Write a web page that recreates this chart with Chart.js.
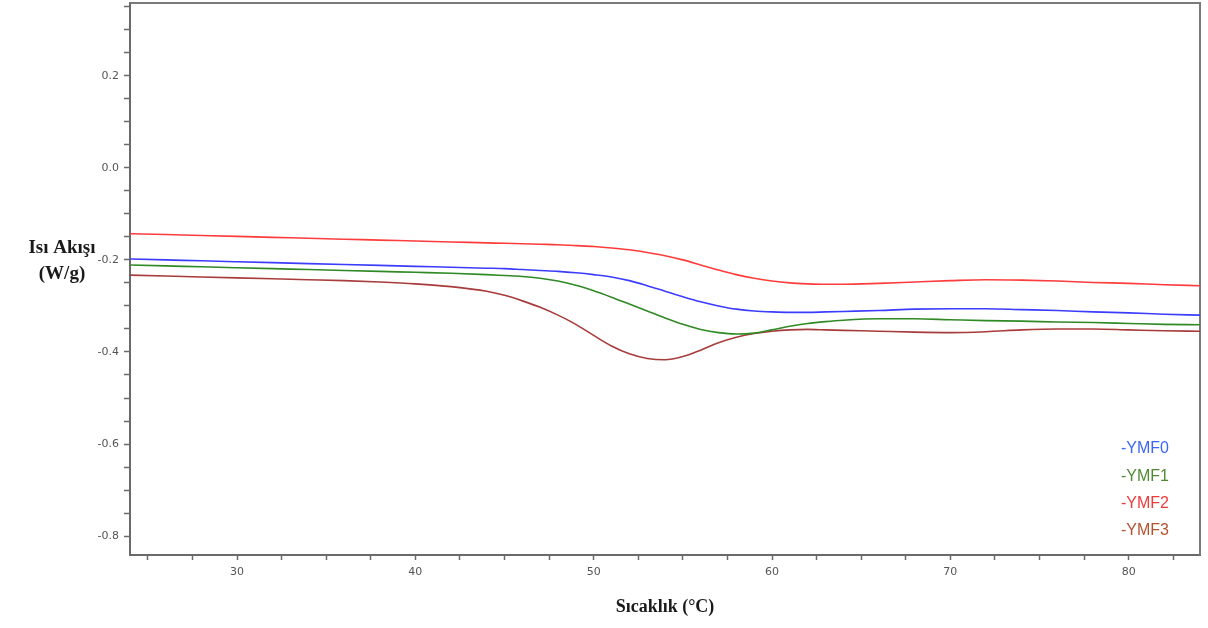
<!DOCTYPE html>
<html><head><meta charset="utf-8">
<script src="https://cdn.jsdelivr.net/npm/chart.js@4/dist/chart.umd.min.js"></script>
<style>html,body{margin:0;padding:0;background:#fff;}#wrap{width:1208px;height:628px;position:relative;}</style>
</head><body><div id="wrap"><canvas id="c" width="1208" height="628"></canvas></div>
<script>
// ---- data ----
const temperatures = [24,26,28,30,32,34,36,38,40,42,44,45,46,47,48,49,50,51,52,53,54,55,56,57,58,59,60,61,62,63,64,66,68,70,72,74,76,78,80,82,84];
const ymf0 = [-0.198,-0.200,-0.202,-0.204,-0.206,-0.208,-0.210,-0.212,-0.214,-0.216,-0.218,-0.219,-0.221,-0.223,-0.225,-0.228,-0.232,-0.237,-0.245,-0.256,-0.268,-0.280,-0.291,-0.300,-0.307,-0.311,-0.313,-0.314,-0.314,-0.313,-0.312,-0.310,-0.307,-0.306,-0.306,-0.308,-0.310,-0.313,-0.315,-0.318,-0.320];
const ymf1 = [-0.211,-0.213,-0.215,-0.217,-0.219,-0.221,-0.223,-0.225,-0.227,-0.229,-0.232,-0.234,-0.236,-0.240,-0.246,-0.255,-0.267,-0.281,-0.296,-0.311,-0.326,-0.340,-0.351,-0.358,-0.361,-0.359,-0.352,-0.344,-0.338,-0.334,-0.331,-0.328,-0.328,-0.330,-0.332,-0.333,-0.335,-0.336,-0.338,-0.340,-0.341];
const ymf2 = [-0.143,-0.145,-0.147,-0.149,-0.151,-0.153,-0.155,-0.157,-0.159,-0.161,-0.163,-0.164,-0.165,-0.166,-0.167,-0.169,-0.171,-0.174,-0.178,-0.184,-0.191,-0.200,-0.211,-0.222,-0.232,-0.240,-0.246,-0.250,-0.252,-0.253,-0.253,-0.251,-0.248,-0.245,-0.243,-0.244,-0.246,-0.249,-0.251,-0.254,-0.256];
const ymf3 = [-0.233,-0.235,-0.237,-0.239,-0.241,-0.243,-0.245,-0.248,-0.252,-0.258,-0.268,-0.277,-0.289,-0.303,-0.320,-0.340,-0.364,-0.387,-0.404,-0.414,-0.417,-0.410,-0.396,-0.380,-0.368,-0.360,-0.355,-0.352,-0.351,-0.352,-0.353,-0.355,-0.357,-0.358,-0.356,-0.352,-0.350,-0.350,-0.352,-0.354,-0.355];
const seriesNames = ['-YMF0','-YMF1','-YMF2','-YMF3'];
const seriesValues = [ymf0, ymf1, ymf2, ymf3];
const xMajorTicks = [30,40,50,60,70,80];
const xMinorTicks = [25,27.5,32.5,35,37.5,42.5,45,47.5,52.5,55,57.5,62.5,65,67.5,72.5,75,77.5,82.5];
const yMajorTicks = [-0.8,-0.6,-0.4,-0.2,0.0,0.2];
const yMinorTicks = [-0.75,-0.7,-0.65,-0.55,-0.5,-0.45,-0.35,-0.3,-0.25,-0.15,-0.1,-0.05,0.05,0.1,0.15,0.25,0.3,0.35];
const xTitleText = 'Sıcaklık (°C)';
const yTitleLines = ['Isı Akışı','(W/g)'];

// ---- styles ----
const lineColors = ['#3c3cff','#2f8a25','#ff3c3c','#a83b3b'];
const legendColors = ['#3b66f5','#4f8a33','#ee3b3b','#b4522f'];

const datasets = seriesValues.map((vals, i) => ({
  label: seriesNames[i],
  data: temperatures.map((t, j) => ({x: t, y: vals[j]})),
  borderColor: lineColors[i],
  borderWidth: 1.6,
  pointRadius: 0,
  fill: false,
  cubicInterpolationMode: 'monotone'
}));

const isMajor = (v, list) => list.some(m => Math.abs(m - v) < 1e-6);

const framePlugin = {
  id: 'frame',
  beforeDatasetsDraw(chart) {
    const {ctx, chartArea: a} = chart;
    ctx.save();
    ctx.strokeStyle = '#7a7a7a';
    ctx.lineWidth = 2;
    ctx.beginPath();
    ctx.moveTo(a.left, a.top);
    ctx.lineTo(a.right, a.top);
    ctx.lineTo(a.right, a.bottom);
    ctx.stroke();
    ctx.restore();
  },
  afterDraw(chart) {
    const {ctx} = chart;
    ctx.save();
    ctx.fillStyle = '#1a1a1a';
    ctx.font = 'bold 19px "Liberation Serif", "Times New Roman", serif';
    ctx.textAlign = 'center';
    ctx.textBaseline = 'middle';
    yTitleLines.forEach((s, i) => ctx.fillText(s, 62, 248 + i * 26));
    ctx.font = '16px "Liberation Sans", Arial, sans-serif';
    ctx.textAlign = 'left';
    seriesNames.forEach((s, i) => {
      ctx.fillStyle = legendColors[i];
      ctx.fillText(s, 1121, 449 + i * 27.3);
    });
    ctx.restore();
  }
};

new Chart(document.getElementById('c'), {
  type: 'line',
  data: {datasets},
  plugins: [framePlugin],
  options: {
    responsive: false,
    animation: false,
    devicePixelRatio: 1,
    layout: {padding: {top: 3, right: 8, bottom: 0, left: 0}},
    plugins: {legend: {display: false}, tooltip: {enabled: false}},
    scales: {
      x: {
        type: 'linear', min: 24, max: 84,
        afterBuildTicks: s => { s.ticks = xMajorTicks.concat(xMinorTicks).sort((a,b)=>a-b).map(v => ({value: v})); },
        afterFit: s => { s.height = 73; s.paddingLeft = 0; s.paddingRight = 0; },
        ticks: {
          autoSkip: false, maxRotation: 0, padding: 6,
          color: '#555', font: {family: '"DejaVu Sans", sans-serif', size: 11},
          callback: v => isMajor(v, xMajorTicks) ? String(Math.round(v)) : ''
        },
        grid: {drawOnChartArea: false, drawTicks: true, tickLength: 5, tickColor: '#6a6a6a', tickWidth: 1.5},
        border: {display: true, color: '#6a6a6a', width: 2},
        title: {display: true, text: xTitleText, color: '#1a1a1a',
          font: {family: '"Liberation Serif", "Times New Roman", serif', size: 18, weight: 'bold'},
          padding: {top: 4, bottom: 10}}
      },
      y: {
        type: 'linear', min: -0.841, max: 0.358,
        afterBuildTicks: s => { s.ticks = yMajorTicks.concat(yMinorTicks).sort((a,b)=>a-b).map(v => ({value: v})); },
        afterFit: s => { s.width = 130; s.paddingTop = 0; s.paddingBottom = 0; },
        ticks: {
          autoSkip: false, padding: 5,
          color: '#555', font: {family: '"DejaVu Sans", sans-serif', size: 11},
          callback: v => isMajor(v, yMajorTicks) ? (Math.abs(v) < 1e-9 ? '0.0' : v.toFixed(1)) : ''
        },
        grid: {drawOnChartArea: false, drawTicks: true, tickLength: 6, tickColor: '#6a6a6a', tickWidth: 1.5},
        border: {display: true, color: '#6a6a6a', width: 2}
      }
    }
  }
});
</script>
</body></html>
